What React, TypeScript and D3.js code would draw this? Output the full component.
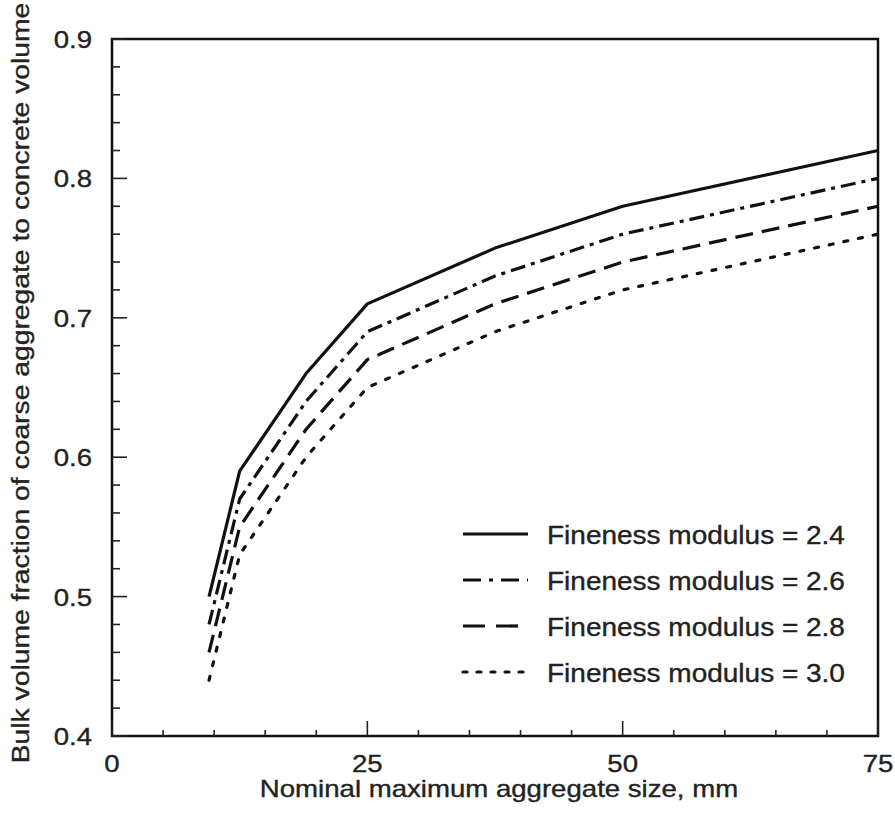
import React from "react";
import * as d3 from "d3";

const sizes = [9.5, 12.5, 19, 25, 37.5, 50, 75];
const fm24 = [0.5, 0.59, 0.66, 0.71, 0.75, 0.78, 0.82];
const fm26 = [0.48, 0.57, 0.64, 0.69, 0.73, 0.76, 0.8];
const fm28 = [0.46, 0.55, 0.62, 0.67, 0.71, 0.74, 0.78];
const fm30 = [0.44, 0.53, 0.6, 0.65, 0.69, 0.72, 0.76];
const seriesLabels = [
  "Fineness modulus = 2.4",
  "Fineness modulus = 2.6",
  "Fineness modulus = 2.8",
  "Fineness modulus = 3.0",
];
const xTicks = [0, 25, 50, 75];
const yTicks = [0.4, 0.5, 0.6, 0.7, 0.8, 0.9];
const xTitle = "Nominal maximum aggregate size, mm";
const yTitle = "Bulk volume fraction of coarse aggregate to concrete volume";

const W = 895;
const H = 816;
const FONT = "'Liberation Sans', Arial, Helvetica, sans-serif";

export default function App() {
  const x = d3.scaleLinear().domain([0, 75]).range([112, 878]);
  const y = d3.scaleLinear().domain([0.4, 0.9]).range([736, 39]);
  const series = [fm24, fm26, fm28, fm30];
  const dashes = ["", "15,6,4,6", "18,9", "4,11"];
  const legendDashes = ["", "18,8,4,8", "22,11", "4,10"];
  const line = d3
    .line<[number, number]>()
    .x((d) => x(d[0]))
    .y((d) => y(d[1]));

  const xMinor = d3.range(0, 75.001, 5);
  const yMinor = d3.range(0.4, 0.9001, 0.02);

  const txt = { fill: "#222", stroke: "#222", strokeWidth: 0.35 };
  return (
    <svg
      width={W}
      height={H}
      style={{ position: "absolute", left: 0, top: 0, background: "#fff" }}
      fontFamily={FONT}
    >
      <rect x={0} y={0} width={W} height={H} fill="#fff" />
      {/* frame */}
      <rect
        x={x(0)}
        y={y(0.9)}
        width={x(75) - x(0)}
        height={y(0.4) - y(0.9)}
        fill="none"
        stroke="#111"
        strokeWidth={2.5}
      />
      {/* y ticks */}
      {yMinor.map((v, i) => {
        const major = i % 5 === 0;
        return (
          <line
            key={"ym" + i}
            x1={x(0)}
            x2={x(0) + (major ? 15 : 8)}
            y1={y(v)}
            y2={y(v)}
            stroke="#222"
            strokeWidth={1.6}
          />
        );
      })}
      {xMinor.map((v, i) => {
        const major = v % 25 === 0;
        return (
          <line
            key={"xm" + i}
            x1={x(v)}
            x2={x(v)}
            y1={y(0.4)}
            y2={y(0.4) - (major ? 15 : 6)}
            stroke="#222"
            strokeWidth={1.6}
          />
        );
      })}
      {/* tick labels */}
      {yTicks.map((v) => (
        <text
          key={"yl" + v}
          transform={`translate(92,${y(v) + 9}) scale(1.15,1)`}
          textAnchor="end"
          fontSize={24}
          {...txt}
        >
          {v.toFixed(1)}
        </text>
      ))}
      {xTicks.map((v) => (
        <text
          key={"xl" + v}
          transform={`translate(${x(v)},772) scale(1.15,1)`}
          textAnchor="middle"
          fontSize={24}
          {...txt}
        >
          {String(v)}
        </text>
      ))}
      {/* titles */}
      <text
        transform={`translate(499,797) scale(1.2,1)`}
        textAnchor="middle"
        fontSize={23}
        {...txt}
      >
        {xTitle}
      </text>
      <text
        transform={`translate(29,383) rotate(-90) scale(1.23,1)`}
        textAnchor="middle"
        fontSize={23}
        {...txt}
      >
        {yTitle}
      </text>
      {/* curves */}
      {series.map((vals, i) => (
        <path
          key={"s" + i}
          d={line(sizes.map((s, j) => [s, vals[j]]) as [number, number][]) || ""}
          fill="none"
          stroke="#111"
          strokeWidth={3.2}
          strokeDasharray={dashes[i] || undefined}
          strokeLinecap={i === 3 ? "round" : "butt"}
          strokeLinejoin="round"
        />
      ))}
      {/* legend */}
      {seriesLabels.map((lab, i) => {
        const ly = 534 + i * 46;
        return (
          <g key={"lg" + i}>
            <line
              x1={463}
              x2={528}
              y1={ly}
              y2={ly}
              stroke="#111"
              strokeWidth={3.2}
              strokeDasharray={legendDashes[i] || undefined}
              strokeLinecap={i === 3 ? "round" : "butt"}
            />
            <text
              transform={`translate(547,${ly + 10}) scale(1.12,1)`}
              fontSize={25}
              {...txt}
            >
              {lab}
            </text>
          </g>
        );
      })}
    </svg>
  );
}
